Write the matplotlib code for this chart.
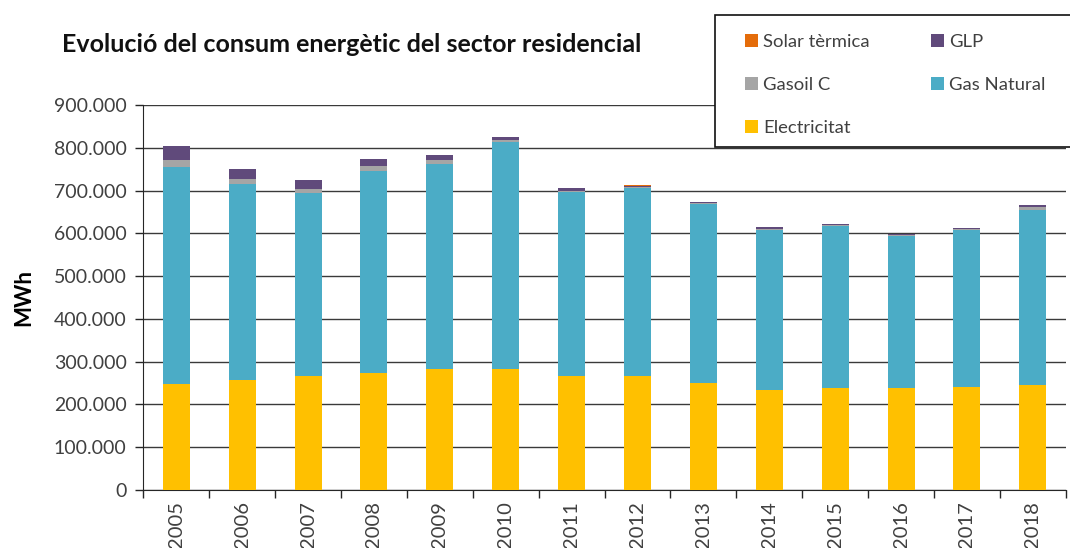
import numpy as np
import matplotlib.pyplot as plt
from matplotlib.patches import Rectangle
from matplotlib.ticker import FuncFormatter

# Consum energètic del sector residencial (MWh)
anys = ['2005', '2006', '2007', '2008', '2009', '2010', '2011',
        '2012', '2013', '2014', '2015', '2016', '2017', '2018']

electricitat = [248000, 257000, 266000, 273000, 283000, 284000, 266000,
                266000, 250000, 234000, 238000, 238000, 240000, 245000]
gas_natural = [507000, 458000, 429000, 473000, 479000, 530000, 431000,
               441000, 420000, 375000, 380000, 355000, 369000, 411000]
gasoil_c = [16000, 12000, 10000, 11000, 10000, 4000, 3000,
            2000, 2000, 2000, 2000, 3000, 2000, 7000]
glp = [33000, 24000, 19000, 17000, 11000, 8000, 6000,
       3000, 2000, 3000, 2000, 2000, 2000, 3000]
solar_termica = [300, 300, 400, 400, 500, 500, 600,
                 600, 700, 700, 700, 800, 800, 800]

series = [
    ('Electricitat', electricitat, '#FFC000'),
    ('Gas Natural', gas_natural, '#4BACC6'),
    ('Gasoil C', gasoil_c, '#A5A5A5'),
    ('GLP', glp, '#604A7B'),
    ('Solar tèrmica', solar_termica, '#E46C0A'),
]

plt.rcParams['font.family'] = ['Lato', 'DejaVu Sans']

fig = plt.figure(figsize=(10.7, 5.48), dpi=100)
ax = fig.add_axes([0.134, 0.106, 0.862, 0.702])

x = np.arange(len(anys))
base = np.zeros(len(anys))
barres = {}
for nom, valors, color in series:
    barres[nom] = ax.bar(x, valors, width=0.41, bottom=base, color=color,
                         zorder=3, label=nom)
    base = base + np.array(valors)

ax.set_ylim(0, 900000)
ax.set_xlim(-0.5, len(anys) - 0.5)
ax.set_yticks(np.arange(0, 900001, 100000))
ax.yaxis.set_major_formatter(FuncFormatter(lambda v, p: f'{int(v):,}'.replace(',', '.')))
ax.set_xticks(np.arange(-0.5, len(anys), 1.0), minor=False)
ax.set_xticklabels([])
ax.set_xticks(x, minor=True)
ax.set_xticklabels(anys, minor=True, rotation=90)
ax.tick_params(axis='x', which='minor', length=0, pad=8, labelsize=14.5, labelcolor='#404040')
ax.tick_params(axis='x', which='major', length=6, width=1, color='#262626')
ax.tick_params(axis='y', length=6, width=1, color='#262626', labelsize=14,
               labelcolor='#404040', pad=6)

ax.grid(axis='y', color='#3a3a3a', linewidth=1, zorder=0)
ax.set_axisbelow(True)
for lado in ['top', 'right']:
    ax.spines[lado].set_visible(False)
ax.spines['left'].set_color('#262626')
ax.spines['bottom'].set_color('#262626')

ax.set_ylabel('MWh', fontsize=16, fontweight='bold', labelpad=14)
fig.text(0.058, 0.918, 'Evolució del consum energètic del sector residencial',
         fontsize=18, fontweight='bold', color='#111111', va='center')

# marc de la llegenda, obert per la dreta
fig.patches.append(Rectangle((0.668, 0.732), 0.34, 0.241, transform=fig.transFigure,
                             facecolor='white', edgecolor='#111111', linewidth=1.2,
                             zorder=5))

ordre = ['Solar tèrmica', 'Gasoil C', 'Electricitat', 'GLP', 'Gas Natural']
leg = fig.legend([barres[n] for n in ordre], ordre, ncol=2, loc='upper left',
                 bbox_to_anchor=(0.696, 0.938), bbox_transform=fig.transFigure,
                 fontsize=13.3, frameon=False,
                 handlelength=0.7, handleheight=0.7, handletextpad=0.3,
                 labelspacing=1.45, columnspacing=3.3, borderpad=0,
                 borderaxespad=0)
leg.set_zorder(6)
for t in leg.get_texts():
    t.set_color('#404040')

fig.savefig('out.png', dpi=100)
